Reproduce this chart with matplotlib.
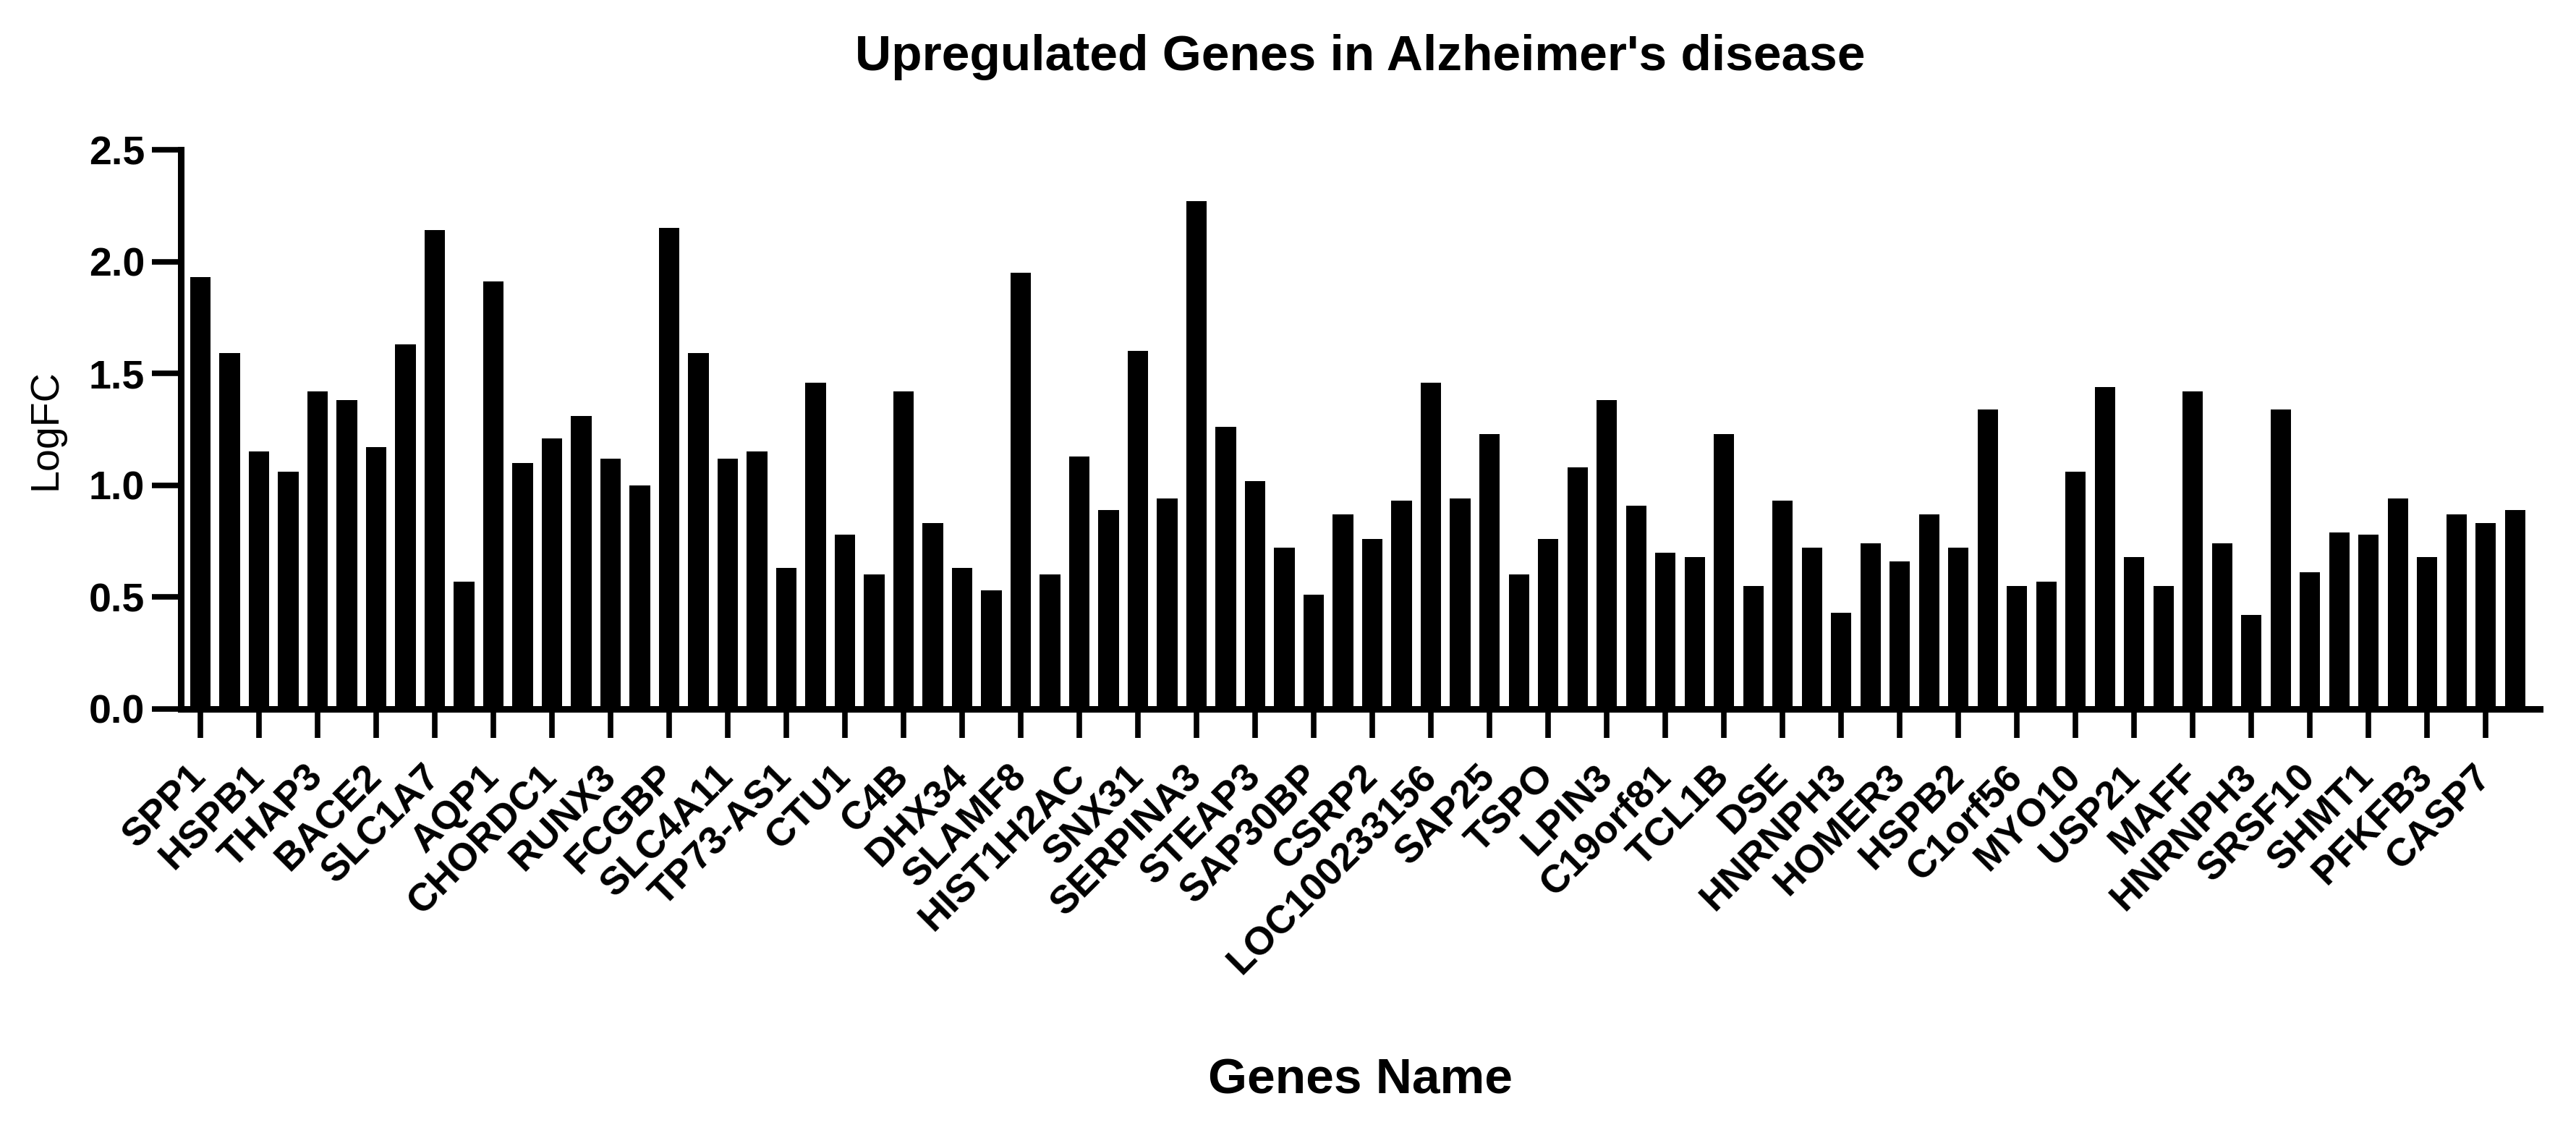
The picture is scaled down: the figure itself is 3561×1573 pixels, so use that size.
import numpy as np
import matplotlib
matplotlib.use("Agg")
import matplotlib.pyplot as plt

plt.rcParams["font.family"] = ["Liberation Sans", "DejaVu Sans"]

# logFC of each upregulated gene (80 bars, only every other one is labelled)
logfc = [1.93, 1.59, 1.15, 1.06, 1.42, 1.38, 1.17, 1.63, 2.14, 0.57,
         1.91, 1.10, 1.21, 1.31, 1.12, 1.00, 2.15, 1.59, 1.12, 1.15,
         0.63, 1.46, 0.78, 0.60, 1.42, 0.83, 0.63, 0.53, 1.95, 0.60,
         1.13, 0.89, 1.60, 0.94, 2.27, 1.26, 1.02, 0.72, 0.51, 0.87,
         0.76, 0.93, 1.46, 0.94, 1.23, 0.60, 0.76, 1.08, 1.38, 0.91,
         0.70, 0.68, 1.23, 0.55, 0.93, 0.72, 0.43, 0.74, 0.66, 0.87,
         0.72, 1.34, 0.55, 0.57, 1.06, 1.44, 0.68, 0.55, 1.42, 0.74,
         0.42, 1.34, 0.61, 0.79, 0.78, 0.94, 0.68, 0.87, 0.83, 0.89]

gene_labels = ["SPP1", "HSPB1", "THAP3", "BACE2", "SLC1A7", "AQP1", "CHORDC1",
               "RUNX3", "FCGBP", "SLC4A11", "TP73-AS1", "CTU1", "C4B", "DHX34",
               "SLAMF8", "HIST1H2AC", "SNX31", "SERPINA3", "STEAP3", "SAP30BP",
               "CSRP2", "LOC100233156", "SAP25", "TSPO", "LPIN3", "C19orf81",
               "TCL1B", "DSE", "HNRNPH3", "HOMER3", "HSPB2", "C1orf56", "MYO10",
               "USP21", "MAFF", "HNRNPH3", "SRSF10", "SHMT1", "PFKFB3", "CASP7"]

yticks = [0.0, 0.5, 1.0, 1.5, 2.0, 2.5]

fig = plt.figure(figsize=(35.61, 15.73), dpi=100)
ax = fig.add_axes([0.0702, 0.377, 0.9158, 0.4914])

x = np.arange(len(logfc))
ax.bar(x, logfc, width=0.7, color="black", edgecolor="none", zorder=1)

ax.set_xlim(-0.67, 79.85)
ax.set_ylim(0, 2.5)

ax.spines["top"].set_visible(False)
ax.spines["right"].set_visible(False)
for s in ["left", "bottom"]:
    ax.spines[s].set_linewidth(6.5)
    ax.spines[s].set_zorder(3)

ax.set_yticks(yticks)
ax.set_yticklabels(["%.1f" % v for v in yticks], fontsize=40, fontweight="bold")
ax.set_xticks(x[::2])
ax.set_xticklabels(gene_labels, fontsize=39, fontweight="bold",
                   rotation=45, ha="right", va="center", rotation_mode="anchor")
ax.tick_params(axis="both", direction="out", length=29, width=5.5)
ax.tick_params(axis="y", pad=7)
ax.tick_params(axis="x", pad=33)

ax.set_ylabel("LogFC", fontsize=40, labelpad=24)
ax.set_xlabel("Genes Name", fontsize=50, fontweight="bold", labelpad=76)
ax.set_title("Upregulated Genes in Alzheimer's disease", fontsize=50,
             fontweight="bold", pad=79)

fig.savefig("out.png", dpi=100)
